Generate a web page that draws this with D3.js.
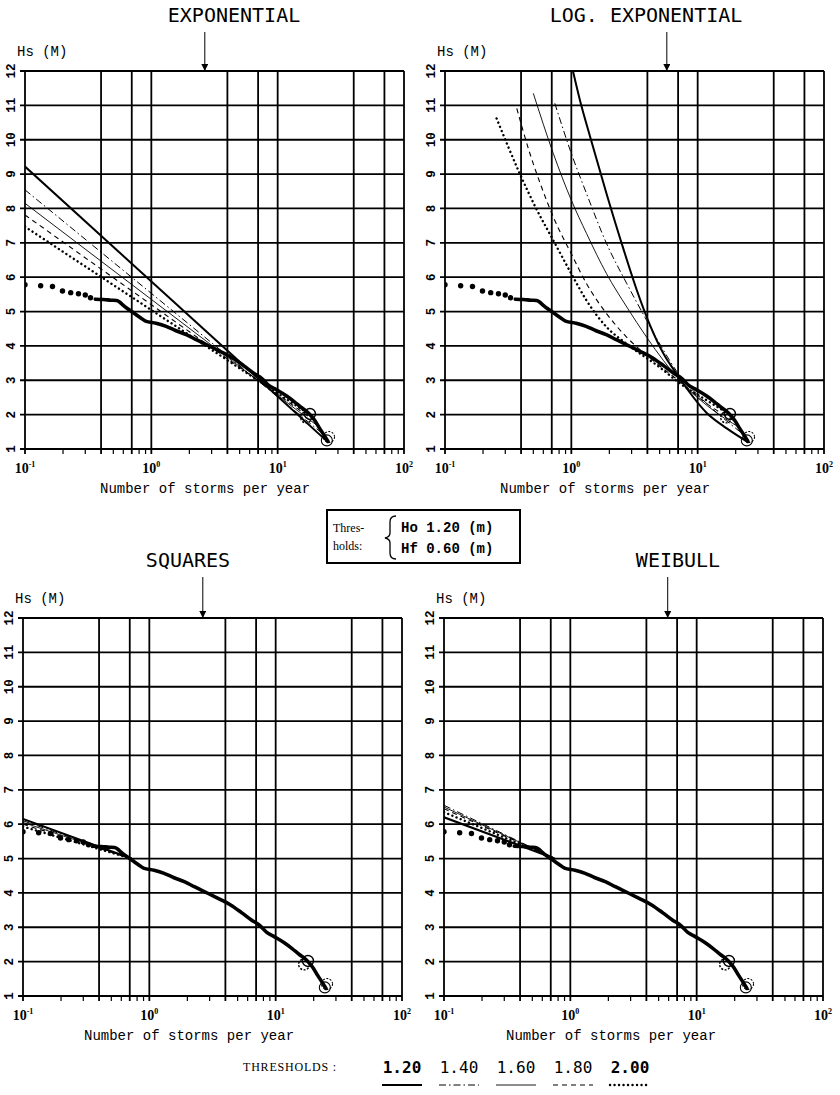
<!DOCTYPE html>
<html>
<head>
<meta charset="utf-8">
<script src="https://cdn.jsdelivr.net/npm/d3@7/dist/d3.min.js"></script>
<style>
  body { margin: 0; background: #fff; }
</style>
</head>
<body>
<div id="chart"></div>
<script>
// ---- data ----
const yTicks = [1, 2, 3, 4, 5, 6, 7, 8, 9, 10, 11, 12];
const xGrid = [0.1, 0.4, 0.7, 1, 4, 7, 10, 40, 70, 100];
const xMinor = [0.2, 0.3, 0.5, 0.6, 0.8, 0.9, 2, 3, 5, 6, 8, 9, 20, 30, 50, 60, 80, 90];
const xLabelValues = [0.1, 1, 10, 100];
const xLabelExps = ["-1", "0", "1", "2"];
const thresholds = ["1.20", "1.40", "1.60", "1.80", "2.00"];

// observed storms (same in every panel)
const obsDots = [[0.1, 5.78], [0.133, 5.75], [0.165, 5.73], [0.198, 5.6], [0.23, 5.55],
                 [0.265, 5.52], [0.3, 5.48], [0.33, 5.4]];
const obsCurve = [[0.36, 5.36], [0.42, 5.35], [0.48, 5.33], [0.53, 5.32], [0.56, 5.28], [0.6, 5.18],
                  [0.65, 5.08], [0.73, 4.95], [0.82, 4.82], [0.9, 4.72], [1.09, 4.66], [1.31, 4.57],
                  [1.57, 4.44], [1.89, 4.33], [2.27, 4.18], [2.9, 3.99], [3.5, 3.84], [4.4, 3.65],
                  [5.4, 3.42], [6.5, 3.2], [7.5, 3.05], [8.5, 2.85], [9.8, 2.72], [11.7, 2.55],
                  [13.5, 2.38], [15.5, 2.2], [17.5, 2.05], [19.5, 1.85], [21.5, 1.6], [23.5, 1.38], [25, 1.22]];
const obsCircles = [[18, 2.02], [16.8, 1.92], [24.5, 1.25], [25.5, 1.35]];

// fitted curves, one per threshold (1.20, 1.40, 1.60, 1.80, 2.00)
const fitExponential = [
  [[0.1, 9.22], [25, 1.2]],
  [[0.1, 8.54], [23.5, 1.4]],
  [[0.1, 8.15], [22, 1.6]],
  [[0.1, 7.81], [20, 1.8]],
  [[0.1, 7.47], [18, 2.0]]
];
const fitLogExponential = [
  [[1.03, 12], [1.17, 11.15], [1.41, 10.08], [1.9, 8.43], [2.58, 6.83], [3.3, 5.62], [4.2, 4.6],
   [5.37, 3.77], [6.8, 3.19], [11.8, 2.05], [17, 1.6], [25, 1.2]],
  [[0.74, 11.06], [1.0, 9.6], [1.32, 8.43], [1.9, 6.98], [2.75, 5.81], [3.95, 4.74], [5.37, 3.87],
   [7, 3.2], [12, 2.3], [23.5, 1.4]],
  [[0.5, 11.35], [0.72, 9.6], [1.0, 8.24], [1.32, 7.27], [1.9, 6.1], [2.75, 5.13], [3.95, 4.25],
   [5.37, 3.57], [7, 3.05], [12, 2.25], [22, 1.6]],
  [[0.37, 10.91], [0.47, 9.6], [0.58, 8.63], [0.72, 7.75], [1.0, 6.68], [1.32, 5.81], [1.9, 4.94],
   [2.75, 4.25], [4.45, 3.57], [7, 3.0], [12, 2.3], [20, 1.8]],
  [[0.256, 10.62], [0.39, 9.02], [0.52, 8.04], [0.72, 7.07], [1.0, 6.1], [1.32, 5.32], [1.9, 4.55],
   [2.74, 4.06], [5.0, 3.38], [7.3, 2.9], [12, 2.4], [18, 2.0]]
];
const fitSquares = [
  [[0.1, 6.15], [0.72, 5.0]],
  [[0.1, 6.1], [0.72, 5.0]],
  [[0.1, 6.05], [0.72, 5.0]],
  [[0.1, 6.0], [0.72, 5.0]],
  [[0.1, 5.93], [0.72, 5.0]]
];
const fitWeibull = [
  [[0.1, 6.2], [0.75, 5.0]],
  [[0.1, 6.55], [0.75, 5.0]],
  [[0.1, 6.5], [0.75, 5.0]],
  [[0.1, 6.45], [0.75, 5.0]],
  [[0.1, 6.35], [0.75, 5.0]]
];

// ---- layout ----
const width = 840, height = 1095;
const pw = 379, ph = 378;
const monoFont = "'Liberation Mono', 'DejaVu Sans Mono', monospace";
const titleFont = "'DejaVu Sans Mono', monospace";

const fitStyles = [
  {w: 2.0, dash: null, cap: "butt"},
  {w: 1.0, dash: "7,3,1.5,3", cap: "butt"},
  {w: 0.9, dash: null, cap: "butt"},
  {w: 1.1, dash: "5,4", cap: "butt"},
  {w: 2.4, dash: "0.1,4.4", cap: "round"}
];

const panels = [
  {id: "p1", title: "EXPONENTIAL", fits: fitExponential, left: 25, top: 71, titleX: 234, titleY: 22, arrowAt: 2.65, labelX: 100},
  {id: "p2", title: "LOG. EXPONENTIAL", fits: fitLogExponential, left: 445, top: 71, titleX: 646, titleY: 22, arrowAt: 5.7, labelX: 500},
  {id: "p3", title: "SQUARES", fits: fitSquares, left: 23, top: 618, titleX: 188, titleY: 567, arrowAt: 2.65, labelX: 84},
  {id: "p4", title: "WEIBULL", fits: fitWeibull, left: 444, top: 618, titleX: 678, titleY: 567, arrowAt: 5.9, labelX: 506}
];

const svg = d3.select("#chart")
  .append("svg")
    .attr("width", width)
    .attr("height", height);

svg.append("defs").append("marker")
    .attr("id", "arrowhead")
    .attr("viewBox", "0 0 10 10")
    .attr("refX", 10).attr("refY", 5)
    .attr("markerWidth", 7).attr("markerHeight", 7)
    .attr("markerUnits", "userSpaceOnUse")
    .attr("orient", "auto")
  .append("path")
    .attr("d", "M0,0 L10,5 L0,10 Z")
    .attr("fill", "#000");

panels.forEach(drawPanel);

function drawPanel(p) {
  const x = d3.scaleLog().domain([0.1, 100]).range([p.left, p.left + pw]);
  const y = d3.scaleLinear().domain([1, 12]).range([p.top + ph, p.top]);
  const g = svg.append("g");

  g.append("clipPath").attr("id", "clip-" + p.id)
    .append("rect")
      .attr("x", p.left).attr("y", p.top)
      .attr("width", pw).attr("height", ph);

  // horizontal grid (sticks out a little on the left like a tick)
  g.selectAll(".hgrid").data(yTicks).join("line")
      .attr("x1", p.left - 5).attr("x2", p.left + pw)
      .attr("y1", d => y(d)).attr("y2", d => y(d))
      .attr("stroke", "#000").attr("stroke-width", 1.8);

  // vertical grid
  g.selectAll(".vgrid").data(xGrid).join("line")
      .attr("x1", d => x(d)).attr("x2", d => x(d))
      .attr("y1", p.top).attr("y2", p.top + ph + 5)
      .attr("stroke", "#000").attr("stroke-width", 1.8);

  // minor ticks under the x axis
  g.selectAll(".minor").data(xMinor).join("line")
      .attr("x1", d => x(d)).attr("x2", d => x(d))
      .attr("y1", p.top + ph).attr("y2", p.top + ph + 5)
      .attr("stroke", "#000").attr("stroke-width", 1.2);

  // y tick labels, rotated
  g.selectAll(".ylab").data(yTicks).join("text")
      .attr("transform", d => `translate(${p.left - 10}, ${y(d)}) rotate(-90)`)
      .attr("text-anchor", "middle")
      .style("font-family", monoFont).style("font-weight", "bold").style("font-size", "12.5px")
      .text(d => d);

  // x tick labels 10^n
  const xl = g.selectAll(".xlab").data(xLabelValues).join("text")
      .attr("x", d => x(d))
      .attr("y", p.top + ph + 24)
      .attr("text-anchor", "middle")
      .style("font-family", "'Liberation Serif', serif").style("font-weight", "bold").style("font-size", "14px");
  xl.append("tspan").text("10");
  xl.append("tspan").attr("dy", -6).style("font-size", "8px").text((d, i) => xLabelExps[i]);

  g.append("text")
      .attr("x", p.labelX)
      .attr("y", p.top + ph + 44)
      .style("font-family", monoFont).style("font-size", "14px")
      .text("Number of storms per year");

  g.append("text")
      .attr("x", p.left - 8)
      .attr("y", p.top - 15)
      .style("font-family", monoFont).style("font-size", "14px")
      .text("Hs (M)");

  // title and arrow
  g.append("text")
      .attr("x", p.titleX).attr("y", p.titleY)
      .attr("text-anchor", "middle")
      .style("font-family", titleFont).style("font-size", "20px")
      .text(p.title);
  g.append("line")
      .attr("x1", x(p.arrowAt)).attr("x2", x(p.arrowAt))
      .attr("y1", p.titleY + 10).attr("y2", p.top)
      .attr("stroke", "#000").attr("stroke-width", 1)
      .attr("marker-end", "url(#arrowhead)");

  const plot = g.append("g").attr("clip-path", `url(#clip-${p.id})`);
  const line = d3.line().x(d => x(d[0])).y(d => y(d[1])).curve(d3.curveMonotoneX);

  // fitted curves per threshold
  plot.selectAll(".fit").data(p.fits).join("path")
      .attr("d", line)
      .attr("fill", "none")
      .attr("stroke", "#000")
      .attr("stroke-width", (d, i) => fitStyles[i].w)
      .attr("stroke-dasharray", (d, i) => fitStyles[i].dash)
      .attr("stroke-linecap", (d, i) => fitStyles[i].cap);

  // observed data
  plot.append("path")
      .datum(obsCurve)
      .attr("d", line)
      .attr("fill", "none")
      .attr("stroke", "#000")
      .attr("stroke-width", 3.6)
      .attr("stroke-linecap", "round");
  plot.selectAll(".dot").data(obsDots).join("circle")
      .attr("cx", d => x(d[0])).attr("cy", d => y(d[1]))
      .attr("r", 2.7).attr("fill", "#000");

  g.selectAll(".ring").data(obsCircles).join("circle")
      .attr("cx", d => x(d[0])).attr("cy", d => y(d[1]))
      .attr("r", 5.5)
      .attr("fill", "none").attr("stroke", "#000")
      .attr("stroke-width", (d, i) => i < 2 ? 1.4 : 1.1)
      .attr("stroke-dasharray", (d, i) => i % 2 ? "2,1.5" : null);
}

// ---- threshold box between the rows ----
const box = svg.append("g");
box.append("rect")
    .attr("x", 327).attr("y", 510).attr("width", 193).attr("height", 53)
    .attr("fill", "none").attr("stroke", "#000").attr("stroke-width", 2);
box.append("text").attr("x", 333).attr("y", 532)
    .style("font-family", "'Liberation Serif', serif").style("font-size", "12px")
    .text("Thres-");
box.append("text").attr("x", 333).attr("y", 550)
    .style("font-family", "'Liberation Serif', serif").style("font-size", "12px")
    .text("holds:");
box.append("path")
    .attr("d", "M396,516 Q390,516 390,522 L390,533 Q390,537 385,538 Q390,539 390,543 L390,553 Q390,559 396,559")
    .attr("fill", "none").attr("stroke", "#000").attr("stroke-width", 1.3);
box.append("text").attr("x", 401).attr("y", 532)
    .style("font-family", monoFont).style("font-weight", "bold").style("font-size", "14px")
    .text("Ho 1.20 (m)");
box.append("text").attr("x", 401).attr("y", 553)
    .style("font-family", monoFont).style("font-weight", "bold").style("font-size", "14px")
    .text("Hf 0.60 (m)");

// ---- legend ----
const legend = svg.append("g");
legend.append("text").attr("x", 243).attr("y", 1071)
    .style("font-family", "'Liberation Serif', serif").style("font-size", "12px")
    .style("letter-spacing", "0.8px")
    .text("THRESHOLDS :");
const legX = d3.scalePoint().domain(thresholds).range([402, 630]);
legend.selectAll(".lt").data(thresholds).join("text")
    .attr("x", d => legX(d)).attr("y", 1073)
    .attr("text-anchor", "middle")
    .style("font-family", "'DejaVu Sans Mono', monospace")
    .style("font-size", "16px")
    .style("font-weight", (d, i) => (i === 0 || i === 4) ? "bold" : "normal")
    .text(d => d);
legend.selectAll(".ls").data(thresholds).join("line")
    .attr("x1", d => legX(d) - 20).attr("x2", d => legX(d) + 20)
    .attr("y1", 1085).attr("y2", 1085)
    .attr("stroke", "#000")
    .attr("stroke-width", (d, i) => fitStyles[i].w)
    .attr("stroke-dasharray", (d, i) => fitStyles[i].dash)
    .attr("stroke-linecap", (d, i) => fitStyles[i].cap);
</script>
</body>
</html>
